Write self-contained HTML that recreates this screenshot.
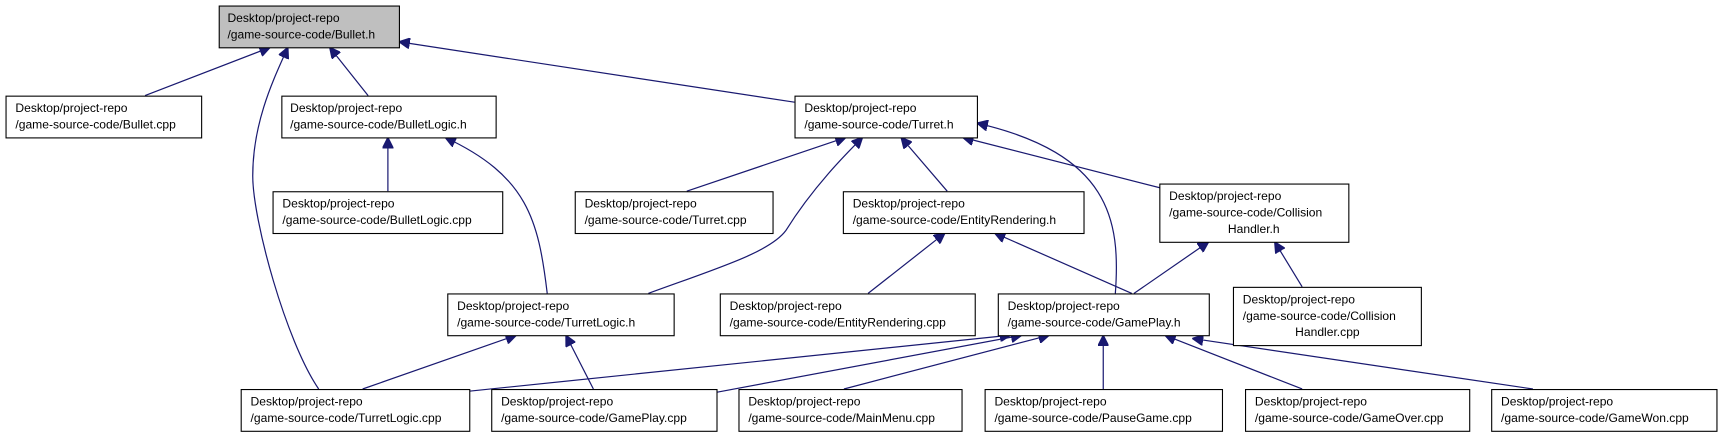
<!DOCTYPE html>
<html><head><meta charset="utf-8"><style>
html,body{margin:0;padding:0;background:#fff;width:1723px;height:439px;overflow:hidden}
svg{display:block}
text{font-family:"Liberation Sans",Arial,sans-serif;font-size:11px;fill:#000}
rect{stroke:#000;stroke-width:1;fill:#fff}
path{fill:none;stroke:#191970;stroke-width:1.1}
</style></head><body>
<svg width="1723" height="439" viewBox="0 0 1568 399.5" xmlns="http://www.w3.org/2000/svg">
<defs><marker id="a" viewBox="0 0 10 10" refX="10" refY="5" markerWidth="10" markerHeight="10" markerUnits="userSpaceOnUse" orient="auto"><path d="M0,0 L10,5 L0,10 z" style="fill:#191970;stroke:#191970"/></marker></defs>
<g style="marker-end:url(#a)">
<path d="M132,87 L246,43"/>
<path d="M290,354 C260,310 230,200 230,160 C230,110 250,70 262,43"/>
<path d="M335,87 L300,43"/>
<path d="M723,93 L363,38"/>
<path d="M353,174 L353,125"/>
<path d="M498,267 C490,200 480,160 405,125"/>
<path d="M625,174 L770,125"/>
<path d="M590,267 C650,245 700,230 715,210 C740,170 770,140 785,125"/>
<path d="M862,174 L820,125"/>
<path d="M1060,172 L876,125"/>
<path d="M1015,267 C1020,200 1010,140 889,112"/>
<path d="M790,267 L860,212"/>
<path d="M1030,267 L905,212"/>
<path d="M1032,267 L1100,220"/>
<path d="M1185,261 L1160,220"/>
<path d="M330,354 L470,305"/>
<path d="M540,354 L515,305"/>
<path d="M427,356 L920,305"/>
<path d="M652,357 L930,305"/>
<path d="M768,354 L955,305"/>
<path d="M1004,354 L1004,305"/>
<path d="M1185,354 L1060,305"/>
<path d="M1395,354 L1085,308"/>
</g>
<rect x="199.5" y="5.5" width="164" height="38" style="fill:#bfbfbf"/>
<text x="207" y="20">Desktop/project-repo</text><text x="207" y="35">/game-source-code/Bullet.h</text>
<rect x="5.5" y="87.5" width="178" height="38"/>
<text x="14" y="102">Desktop/project-repo</text><text x="14" y="117">/game-source-code/Bullet.cpp</text>
<rect x="256.5" y="87.5" width="195" height="38"/>
<text x="264" y="102">Desktop/project-repo</text><text x="264" y="117">/game-source-code/BulletLogic.h</text>
<rect x="248.5" y="174.5" width="209" height="38"/>
<text x="257" y="189">Desktop/project-repo</text><text x="257" y="204">/game-source-code/BulletLogic.cpp</text>
<rect x="723.5" y="87.5" width="166" height="38"/>
<text x="732" y="102">Desktop/project-repo</text><text x="732" y="117">/game-source-code/Turret.h</text>
<rect x="523.5" y="174.5" width="180" height="38"/>
<text x="532" y="189">Desktop/project-repo</text><text x="532" y="204">/game-source-code/Turret.cpp</text>
<rect x="767.5" y="174.5" width="219" height="38"/>
<text x="776" y="189">Desktop/project-repo</text><text x="776" y="204">/game-source-code/EntityRendering.h</text>
<rect x="1055.5" y="167.5" width="172" height="53"/>
<text x="1064" y="182">Desktop/project-repo</text><text x="1064" y="197">/game-source-code/Collision</text><text x="1141" y="212" text-anchor="middle">Handler.h</text>
<rect x="407.5" y="267.5" width="206" height="38"/>
<text x="416" y="282">Desktop/project-repo</text><text x="416" y="297">/game-source-code/TurretLogic.h</text>
<rect x="655.5" y="267.5" width="232" height="38"/>
<text x="664" y="282">Desktop/project-repo</text><text x="664" y="297">/game-source-code/EntityRendering.cpp</text>
<rect x="908.5" y="267.5" width="192" height="38"/>
<text x="917" y="282">Desktop/project-repo</text><text x="917" y="297">/game-source-code/GamePlay.h</text>
<rect x="1122.5" y="261.5" width="171" height="53"/>
<text x="1131" y="276">Desktop/project-repo</text><text x="1131" y="291">/game-source-code/Collision</text><text x="1208" y="306" text-anchor="middle">Handler.cpp</text>
<rect x="219.5" y="354.5" width="208" height="38"/>
<text x="228" y="369">Desktop/project-repo</text><text x="228" y="384">/game-source-code/TurretLogic.cpp</text>
<rect x="447.5" y="354.5" width="205" height="38"/>
<text x="456" y="369">Desktop/project-repo</text><text x="456" y="384">/game-source-code/GamePlay.cpp</text>
<rect x="672.5" y="354.5" width="203" height="38"/>
<text x="681" y="369">Desktop/project-repo</text><text x="681" y="384">/game-source-code/MainMenu.cpp</text>
<rect x="896.5" y="354.5" width="216" height="38"/>
<text x="905" y="369">Desktop/project-repo</text><text x="905" y="384">/game-source-code/PauseGame.cpp</text>
<rect x="1133.5" y="354.5" width="204" height="38"/>
<text x="1142" y="369">Desktop/project-repo</text><text x="1142" y="384">/game-source-code/GameOver.cpp</text>
<rect x="1357.5" y="354.5" width="205" height="38"/>
<text x="1366" y="369">Desktop/project-repo</text><text x="1366" y="384">/game-source-code/GameWon.cpp</text>
</svg>
</body></html>
